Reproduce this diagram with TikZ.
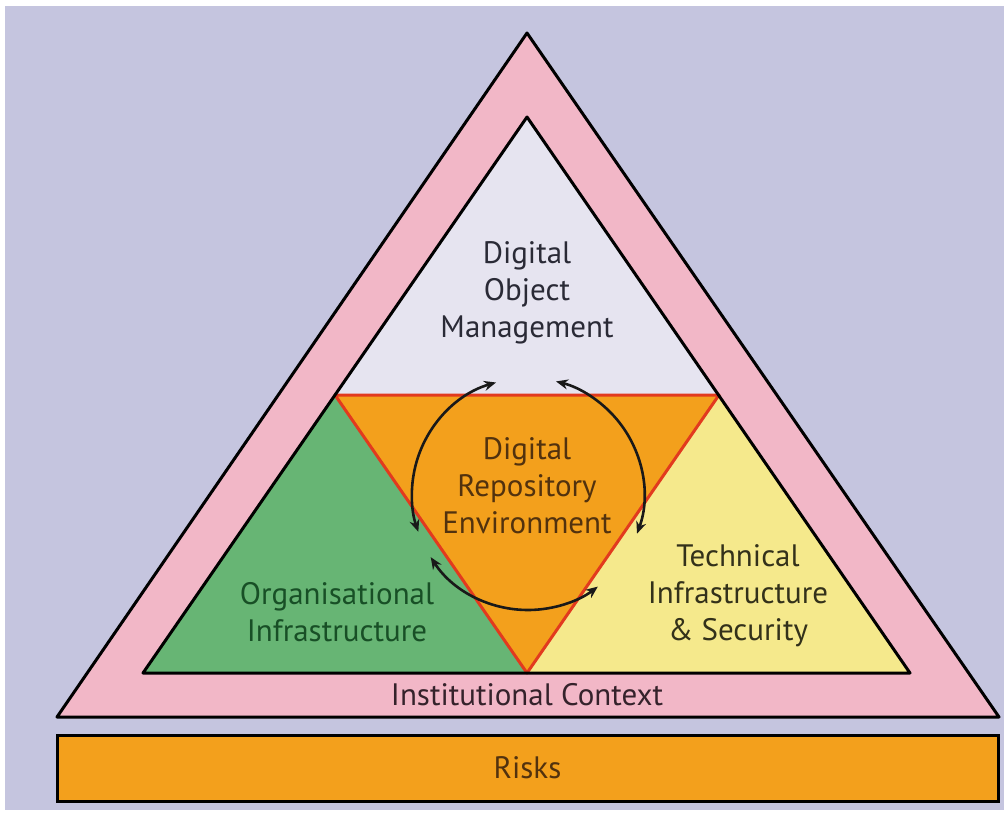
\documentclass[tikz,border=0pt]{standalone}
\usepackage{fontspec}
\setmainfont{PT Sans}
\usetikzlibrary{arrows.meta}
\definecolor{bglav}{HTML}{C5C5DF}
\definecolor{pinkctx}{HTML}{F2B7C7}
\definecolor{domfill}{HTML}{E6E4F0}
\definecolor{orgfill}{HTML}{67B574}
\definecolor{techfill}{HTML}{F5E98C}
\definecolor{orangefill}{HTML}{F3A01C}
\definecolor{redline}{HTML}{E23A1E}
\definecolor{domtext}{HTML}{2A2A36}
\definecolor{orgtext}{HTML}{184F26}
\definecolor{techtext}{HTML}{33311A}
\definecolor{dretext}{HTML}{52320E}
\definecolor{ctxtext}{HTML}{35222B}
\tikzset{
  lbl/.style={align=center, font=\fontsize{31}{37}\selectfont, inner sep=0pt},
  blackedge/.style={draw=black, line width=3pt, line join=round},
  cyc/.style={draw=black!90, line width=2.6pt, {Stealth[length=12pt,width=10pt]}-{Stealth[length=12pt,width=10pt]}}
}
\begin{document}
\begin{tikzpicture}[x=1pt,y=-1pt]
\useasboundingbox (0,0) rectangle (1004,818);
\fill[white] (0,0) rectangle (1004,818);
\fill[bglav] (5,6) rectangle (1004,810);
% coordinates
\coordinate (oa) at (527,33);
\coordinate (ol) at (57,717);
\coordinate (or) at (999,717);
\coordinate (ia) at (527,117);
\coordinate (il) at (143,673);
\coordinate (ir) at (910,673);
\coordinate (ml) at (335,395);
\coordinate (mr) at (719,395);
% outer pink triangle
\fill[pinkctx] (oa) -- (ol) -- (or) -- cycle;
\draw[blackedge] (oa) -- (ol) -- (or) -- cycle;
% inner sections
\fill[domfill] (ia) -- (ml) -- (mr) -- cycle;
\fill[orgfill] (ml) -- (il) -- (ia |- il) -- cycle;
\fill[techfill] (mr) -- (ir) -- (ia |- ir) -- cycle;
\fill[orangefill] (ml) -- (mr) -- (ia |- il) -- cycle;
\draw[redline, line width=3pt, line join=round] (ml) -- (mr) -- (ia |- il) -- cycle;
\draw[blackedge] (ia) -- (il) -- (ir) -- cycle;
% cycle arrows
\coordinate (cc) at (528,494);
\draw[cyc] ([shift={(106:116pt)}]cc) arc[start angle=106, end angle=199, radius=116pt];
\draw[cyc] ([shift={(213:116pt)}]cc) arc[start angle=213, end angle=307, radius=116pt];
\draw[cyc] ([shift={(340:116pt)}]cc) arc[start angle=340, end angle=436, radius=116pt];
% risks bar
\node[draw=black, line width=3pt, fill=orangefill, minimum width=941pt, minimum height=66pt, inner sep=0pt] (risks) at (527.5,768) {};
\node[lbl, text=dretext] (risklbl) at (risks.center) {Risks};
% labels
\node[lbl, text=domtext] (dom) at (527,293) {Digital\\Object\\Management};
\node[lbl, text=dretext] (dre) at (527,486) {Digital\\Repository\\Environment};
\node[lbl, text=orgtext] (org) at (337,612) {Organisational\\Infrastructure};
\node[lbl, text=techtext] (tech) at (738,596) {Technical\\Infrastructure\\\& Security};
\node[lbl, text=ctxtext] (ctx) at (527,695) {Institutional Context};
\end{tikzpicture}
\end{document}
